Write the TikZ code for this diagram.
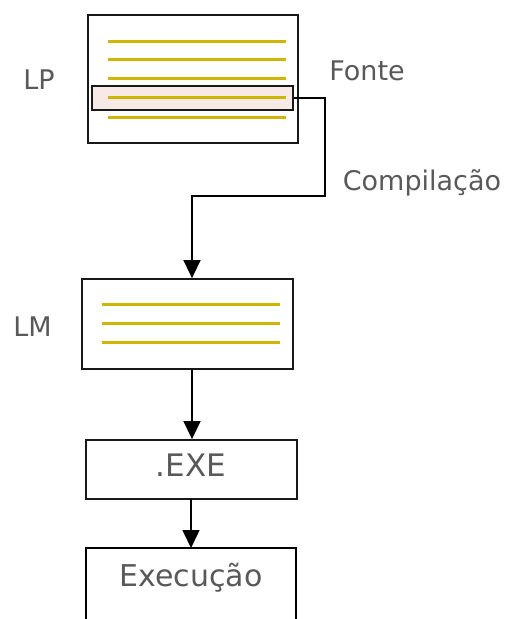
\documentclass[tikz,border=0pt]{standalone}
\usepackage{fontspec}
\setmainfont{DejaVu Sans}
\usetikzlibrary{arrows.meta}
\definecolor{txt}{HTML}{595959}
\definecolor{ylw}{HTML}{CDB500}
\definecolor{hlfill}{HTML}{F7EAE6}
\tikzset{
  boxst/.style={draw=black!90, line width=1.8pt, fill=white, inner sep=0pt},
  yline/.style={draw=ylw, line width=3pt},
  lbl/.style={text=txt, inner sep=0pt},
  conn/.style={draw=black, line width=1.6pt},
  arr/.style={conn, -{Triangle[width=17pt 0,length=18pt 0]}}
}
\begin{document}
\begin{tikzpicture}[x=1pt,y=-1pt]
\useasboundingbox (0,0) rectangle (507,619);
% source box
\node[boxst, minimum width=210pt, minimum height=128pt] (src) at (193,79) {};
\node[draw=black!90, line width=1.8pt, fill=hlfill, minimum width=201pt, minimum height=24pt, inner sep=0pt] (hl) at (192.5,98) {};
\foreach \y in {41,59,78,97,117} \draw[yline] (108,\y) -- (286,\y);
% machine language box
\node[boxst, minimum width=211pt, minimum height=90pt] (lm) at (187.5,324) {};
\foreach \y in {304,323,342} \draw[yline] (102,\y) -- (280,\y);
% exe box
\node[boxst, minimum width=211pt, minimum height=59pt] (exe) at (191.5,469.5) {};
\node[lbl, font=\fontsize{31}{33}\selectfont] (exetxt) at (191,465) {.EXE};
% execution box (cut at bottom)
\coordinate (exa) at (86,619);
\coordinate (exb) at (86,548);
\coordinate (exc) at (296,548);
\coordinate (exd) at (296,619);
\draw[conn, line width=1.8pt] (exa) -- (exb) -- (exc) -- (exd);
\node[lbl, font=\fontsize{30}{32}\selectfont] (extxt) at (191,578) {Execução};
% labels
\node[lbl, font=\fontsize{27}{30}\selectfont] (lp) at (39,80) {LP};
\node[lbl, font=\fontsize{27}{30}\selectfont] (fonte) at (367,71) {Fonte};
\node[lbl, font=\fontsize{27}{30}\selectfont] (comp) at (422,183) {Compilação};
\node[lbl, font=\fontsize{27}{30}\selectfont] (lmt) at (32.5,327) {LM};
% connectors
\coordinate (c1) at (325,98);
\coordinate (c2) at (325,196);
\coordinate (c3) at (192,196);
\draw[arr] (hl.east) -- (c1) -- (c2) -- (c3) -- (c3 |- lm.north);
\coordinate (d1) at (192,369);
\draw[arr] (d1) -- (d1 |- exe.north);
\coordinate (e1) at (191,499);
\draw[arr] (e1) -- (191,548);
\end{tikzpicture}
\end{document}
